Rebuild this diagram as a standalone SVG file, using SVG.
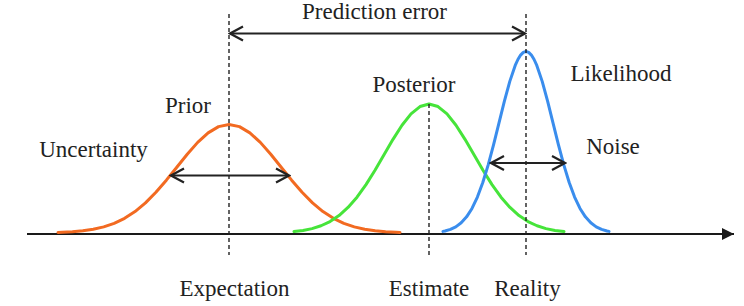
<svg xmlns="http://www.w3.org/2000/svg" width="744" height="306" viewBox="0 0 744 306">
<style>
text{font-family:"Liberation Serif","Times New Roman",serif;font-size:23px;fill:#222;text-anchor:middle}
.curve{fill:none;stroke-width:3;stroke-linejoin:round;stroke-linecap:round}
.dash{fill:none;stroke:#222;stroke-width:1.4;stroke-dasharray:4 3}
.arr{fill:none;stroke:#222;stroke-width:1.8}
</style>
<defs>
<marker id="chev" viewBox="-15 -9 17 18" refX="0" refY="0" markerWidth="17" markerHeight="18" markerUnits="userSpaceOnUse" orient="auto-start-reverse">
<path d="M-13,-7 L0,0 L-13,7" fill="none" stroke="#222" stroke-width="2.2" stroke-linejoin="miter"/>
</marker>
<marker id="tri" viewBox="-13 -7 14 14" refX="0" refY="0" markerWidth="14" markerHeight="14" markerUnits="userSpaceOnUse" orient="auto">
<path d="M-12,-6 L0,0 L-12,6 Z" fill="#1a1a1a"/>
</marker>
</defs>
<g id="axis">
<line x1="27" y1="234" x2="734" y2="234" stroke="#1a1a1a" stroke-width="2" marker-end="url(#tri)"/>
</g>
<g id="prior">
<polyline class="curve" stroke="#f26a21" points="58,232.5 61.96,232.35 72.4,231.8 82.84,230.85 93.28,229.31 103.72,226.91 114.16,223.35 124.6,218.32 135.04,211.53 145.48,202.84 155.92,192.28 166.36,180.18 176.8,167.19 187.24,154.22 197.68,142.37 208.12,132.84 218.56,126.65 229,124.5 239.44,126.65 249.88,132.84 260.32,142.37 270.76,154.22 281.2,167.19 291.64,180.18 302.08,192.28 312.52,202.84 322.96,211.53 333.4,218.32 343.84,223.35 354.28,226.91 364.72,229.31 375.16,230.85 385.6,231.8 396.04,232.35 400,232.5"/>
<text x="188" y="113">Prior</text>
</g>
<g id="posterior">
<polyline class="curve" stroke="#46e43a" points="294,231.57 303,230.45 312,228.61 321,225.76 330,221.53 339,215.55 348,207.47 357,197.14 366,184.59 375,170.2 384,154.76 393,139.33 402,125.25 411,113.92 420,106.55 429,104 438,106.55 447,113.92 456,125.25 465,139.33 474,154.76 483,170.2 492,184.59 501,197.14 510,207.47 519,215.55 528,221.53 537,225.76 546,228.61 555,230.45 564,231.57"/>
<text x="414" y="92">Posterior</text>
</g>
<g id="likelihood">
<polyline class="curve" stroke="#3a8ded" points="443,231.4 445,230.99 450.4,229.41 455.8,226.83 461.2,222.82 466.6,216.86 472,208.44 477.4,197.08 482.8,182.54 488.2,164.88 493.6,144.65 499,122.92 504.4,101.21 509.8,81.39 515.2,65.46 517.9,59.5 520.6,55.09 523.3,52.4 526,51.5 528.7,52.4 531.4,55.09 534.1,59.5 536.8,65.46 542.2,81.39 547.6,101.21 553,122.92 558.4,144.65 563.8,164.88 569.2,182.54 574.6,197.08 580,208.44 585.4,216.86 590.8,222.82 596.2,226.83 601.6,229.41 607,230.99 609,231.4"/>
<text x="621" y="81">Likelihood</text>
</g>
<g id="expectation">
<line class="dash" x1="229" y1="14" x2="229" y2="255"/>
<text x="234.5" y="296">Expectation</text>
</g>
<g id="estimate">
<line class="dash" x1="429" y1="104" x2="429" y2="255"/>
<text x="429" y="296">Estimate</text>
</g>
<g id="reality">
<line class="dash" x1="526" y1="14" x2="526" y2="255"/>
<text x="527.5" y="296">Reality</text>
</g>
<g id="connectors">
<line class="arr" x1="230" y1="33.5" x2="525" y2="33.5" marker-start="url(#chev)" marker-end="url(#chev)"/>
<line class="arr" x1="171" y1="175.5" x2="289" y2="175.5" marker-start="url(#chev)" marker-end="url(#chev)"/>
<line class="arr" x1="491" y1="163" x2="565" y2="163" marker-start="url(#chev)" marker-end="url(#chev)"/>
</g>
<g id="labels">
<text x="374.5" y="19">Prediction error</text>
<text x="93.5" y="157">Uncertainty</text>
<text x="613" y="154">Noise</text>
</g>
</svg>
